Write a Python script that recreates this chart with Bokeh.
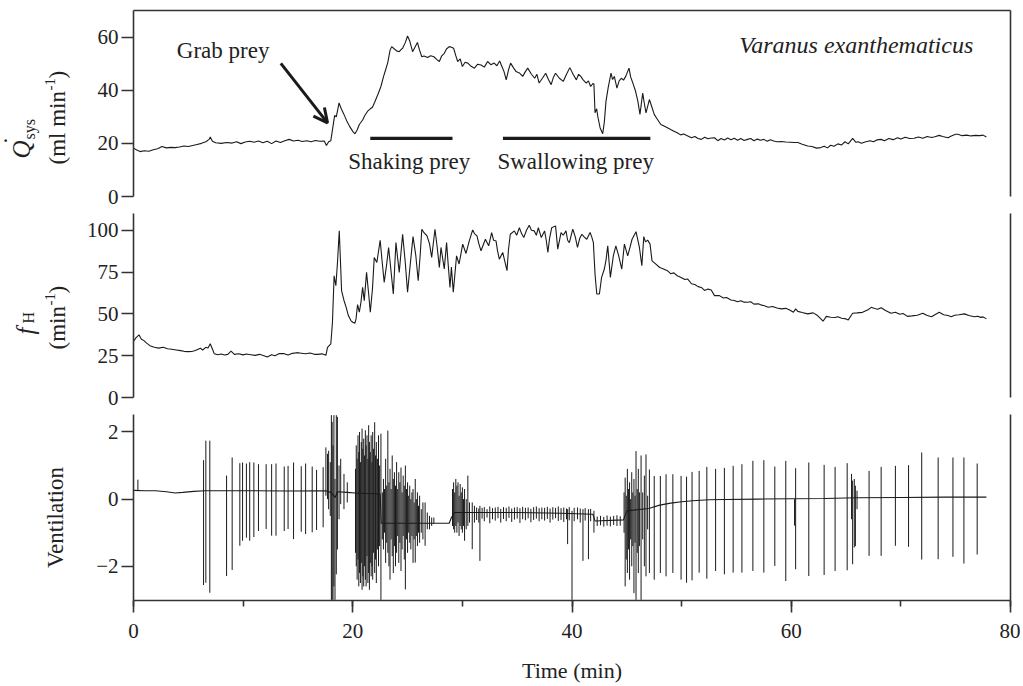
import numpy as np
from bokeh.plotting import figure
from bokeh.models import Range1d, LinearAxis, FixedTicker, SingleIntervalTicker, Label, Arrow, OpenHead
from bokeh.layouts import column, row
from bokeh.embed import file_html
from bokeh.resources import INLINE
from bokeh.core.properties import value

FONT = "Liberation Serif"
INK = "#1a1a1a"
AX = "#333333"
TXT = "#222222"

# ---------------- data ----------------
q_time = [0.0, 0.3, 0.6, 1.0, 1.4, 1.8, 2.2, 2.6, 3.0, 3.4, 3.8, 4.2, 4.6, 5.0, 5.4, 5.8, 6.2, 6.6, 6.9, 7.0,
          7.2, 7.5, 8.0, 8.5, 9.0, 9.4, 9.8, 10.2, 10.6, 11.0, 11.4, 11.8, 12.2, 12.6, 13.0, 13.4, 13.8, 14.2,
          14.6, 15.0, 15.4, 15.8, 16.2, 16.6, 17.0, 17.4, 17.6, 17.8, 18.0, 18.2, 18.35, 18.5, 18.75, 18.95,
          19.2, 19.5, 19.7, 20.0, 20.2, 20.4, 20.6, 20.9, 21.1, 21.36, 21.6, 21.8, 22.0, 22.3, 22.57, 22.8,
          23.0, 23.2, 23.4, 23.55, 23.8, 24.0, 24.24, 24.4, 24.55, 24.8, 25.0, 25.2, 25.46, 25.65, 25.9, 26.1,
          26.3, 26.5, 26.83, 27.1, 27.4, 27.65, 27.9, 28.1, 28.35, 28.55, 28.8, 29.0, 29.2, 29.4, 29.57, 29.8,
          30.0, 30.25, 30.5, 30.8, 31.1, 31.4, 31.7, 32.0, 32.3, 32.6, 32.9, 33.15, 33.4, 33.6, 33.8, 34.0,
          34.2, 34.4, 34.65, 34.9, 35.2, 35.5, 35.75, 35.96, 36.3, 36.6, 36.8, 37.0, 37.3, 37.6, 37.85, 38.1,
          38.3, 38.5, 38.85, 39.2, 39.5, 39.8, 40.1, 40.4, 40.6, 40.8, 41.0, 41.3, 41.5, 41.7, 41.9, 42.0,
          42.1, 42.25, 42.35, 42.56, 42.8, 42.95, 43.1, 43.3, 43.56, 43.7, 43.86, 44.1, 44.3, 44.5, 44.7,
          44.9, 45.2, 45.35, 45.5, 45.8, 46.0, 46.2, 46.45, 46.6, 46.75, 47.06, 47.3, 47.5, 47.8, 48.1, 48.4,
          48.7, 49.0, 49.3, 49.6, 49.9, 50.2, 50.56, 50.9, 51.2, 51.5, 51.8, 52.1, 52.4, 52.7, 53.0, 53.3,
          53.6, 53.9, 54.2, 54.5, 54.8, 55.1, 55.4, 55.7, 56.0, 56.3, 56.6, 56.9, 57.2, 57.5, 57.8, 58.1,
          58.4, 58.7, 59.1, 59.5, 59.9, 60.3, 60.6, 61.0, 61.5, 61.9, 62.3, 62.7, 63.0, 63.3, 63.6, 63.9,
          64.25, 64.6, 64.9, 65.2, 65.6, 65.9, 66.1, 66.4, 66.8, 67.2, 67.5, 67.8, 68.2, 68.5, 68.9, 69.3,
          69.7, 70.0, 70.4, 70.8, 71.2, 71.6, 72.0, 72.4, 72.8, 73.1, 73.5, 73.8, 74.3, 74.6, 75.0, 75.2,
          75.6, 76.0, 76.4, 76.8, 77.2, 77.5, 77.8]
q_sys = [18.2, 17.5, 16.9, 17.2, 17.0, 17.6, 18.0, 18.8, 18.3, 18.5, 18.4, 18.6, 19.0, 18.8, 19.2, 19.6, 20.0, 20.6, 21.5, 22.4,
         20.8, 20.2, 20.0, 20.3, 20.1, 20.6, 19.9, 20.5, 20.8, 20.4, 20.9, 20.2, 20.8, 19.9, 20.9, 20.3, 21.0, 21.5,
         20.9, 21.2, 20.7, 21.0, 20.6, 21.1, 20.8, 20.9, 19.2, 20.6, 21.0, 26.5, 30.5, 30.0, 35.2, 33.0,
         30.9, 28.0, 26.5, 24.5, 23.6, 25.0, 27.1, 28.8, 30.5, 32.1, 33.0, 33.6, 35.5, 38.5, 41.4, 45.0,
         47.7, 50.5, 55.0, 56.4, 55.5, 54.8, 54.5, 55.3, 55.8, 58.0, 60.4, 58.5, 54.5, 56.0, 58.0, 55.0,
         52.6, 52.9, 52.3, 53.0, 52.6, 51.6, 50.8, 52.8, 53.9, 55.5, 56.4, 56.2, 55.8, 53.0, 50.8, 51.8,
         48.9, 50.5, 50.2, 49.0, 48.3, 49.8, 49.5, 48.7, 50.8, 49.6, 50.2, 49.2, 51.0, 49.0, 47.0, 43.9,
         47.5, 50.2, 48.5, 47.0, 46.5, 45.2, 47.0, 48.3, 46.0, 44.5, 46.0, 42.7, 44.5, 46.4, 44.0, 42.1,
         44.8, 46.4, 44.5, 43.3, 46.0, 48.5, 46.0, 43.9, 46.0, 45.2, 44.0, 42.7, 43.5, 41.4, 42.5, 42.3,
         31.5, 33.0, 30.2, 25.9, 23.6, 28.0, 35.8, 41.0, 46.4, 44.0, 45.2, 40.8, 43.5, 44.5, 43.8,
         45.2, 48.3, 45.0, 43.3, 39.6, 36.0, 30.9, 38.9, 35.0, 31.5, 36.5, 33.5, 30.9, 29.0, 27.1, 26.5,
         25.9, 25.2, 24.6, 24.0, 23.2, 23.5, 22.8, 22.1, 22.6, 21.8, 21.5, 22.3, 21.7, 22.0, 22.1, 21.0,
         21.8, 21.3, 22.0, 21.4, 21.9, 21.2, 21.8, 21.1, 21.5, 21.8, 21.0, 21.6, 21.2, 21.5, 20.8, 21.4,
         20.9, 20.6, 20.7, 20.5, 20.4, 20.3, 20.3, 19.7, 19.0, 18.8, 18.2, 18.4, 18.9, 18.3, 19.3, 18.9,
         19.8, 19.4, 20.6, 19.8, 21.9, 20.4, 20.6, 20.0, 20.6, 21.0, 20.6, 21.3, 21.5, 21.0, 21.8, 21.4,
         22.1, 21.6, 22.3, 21.8, 21.9, 22.4, 21.9, 22.6, 22.2, 22.5, 23.0, 22.6, 22.1, 22.8, 23.4, 23.4,
         22.9, 23.1, 22.8, 23.0, 22.9, 23.1, 22.4]

fh_time = [0.0, 0.2, 0.5, 0.7, 0.95, 1.2, 1.5, 1.9, 2.3, 2.7, 3.1, 3.5, 3.9, 4.3, 4.6, 5.0, 5.3, 5.5, 5.8, 6.1,
           6.3, 6.6, 6.8, 7.0, 7.2, 7.36, 7.7, 8.0, 8.3, 8.6, 8.9, 9.2, 9.6, 10.0, 10.3, 10.7, 11.1, 11.5, 11.9,
           12.2, 12.6, 12.9, 13.3, 13.75, 14.1, 14.5, 14.9, 15.3, 15.7, 16.1, 16.5, 16.8, 17.2, 17.55, 17.7,
           18.0, 18.15, 18.3, 18.46, 18.6, 18.77, 18.9, 18.98, 19.2, 19.4, 19.6, 19.83, 20.0, 20.2, 20.3,
           20.44, 20.6, 20.75, 20.9, 21.05, 21.26, 21.45, 21.6, 21.8, 21.96, 22.2, 22.5, 22.7, 22.87, 23.1,
           23.27, 23.5, 23.7, 23.94, 24.24, 24.55, 24.8, 25.0, 25.25, 25.5, 25.75, 25.97, 26.15, 26.3, 26.5,
           26.77, 27.0, 27.2, 27.5, 27.7, 27.9, 28.05, 28.35, 28.56, 28.7, 28.87, 29.0, 29.17, 29.47, 29.7,
           30.03, 30.33, 30.63, 30.94, 31.1, 31.33, 31.5, 31.7, 32.1, 32.4, 32.67, 32.85, 33.07, 33.2, 33.37,
           33.68, 33.9, 34.07, 34.2, 34.37, 34.74, 34.95, 35.2, 35.4, 35.6, 35.85, 36.1, 36.3, 36.56, 36.75,
           36.93, 37.2, 37.5, 37.65, 37.8, 37.95, 38.15, 38.5, 38.7, 39.0, 39.2, 39.45, 39.6, 39.76, 40.07,
           40.3, 40.5, 40.7, 40.9, 41.1, 41.35, 41.65, 41.8, 41.95, 42.1, 42.26, 42.5, 42.7, 42.95, 43.1,
           43.26, 43.5, 43.77, 44.0, 44.26, 44.54, 44.78, 45.08, 45.3, 45.48, 45.84, 46.15, 46.37, 46.55,
           46.7, 46.9, 47.12, 47.3, 47.6, 48.0, 48.3, 48.7, 49.0, 49.3, 49.6, 49.95, 50.3, 50.56, 50.9, 51.2,
           51.5, 51.8, 52.1, 52.4, 52.7, 53.0, 53.45, 53.8, 54.1, 54.5, 54.8, 55.1, 55.4, 55.7, 56.0, 56.3,
           56.6, 57.0, 57.3, 57.55, 57.9, 58.3, 58.7, 59.1, 59.5, 59.9, 60.2, 60.4, 60.6, 61.0, 61.5, 62.0,
           62.4, 62.7, 62.9, 63.2, 63.6, 64.0, 64.25, 64.6, 65.0, 65.2, 65.6, 66.0, 66.5, 67.0, 67.3, 67.6,
           67.9, 68.2, 68.6, 69.1, 69.5, 69.9, 70.2, 70.6, 71.0, 71.5, 72.0, 72.4, 72.8, 73.1, 73.5, 73.9,
           74.3, 74.6, 74.9, 75.3, 75.8, 76.2, 76.7, 77.0, 77.3, 77.5, 77.8]
f_h = [33.5, 35.5, 37.5, 35.0, 34.0, 32.5, 31.0, 30.0, 29.5, 30.0, 29.1, 28.8, 28.4, 28.0, 27.6, 27.4, 27.5, 27.8, 28.6, 29.5,
       28.4, 30.0, 29.6, 32.1, 29.0, 26.2, 25.6, 26.0, 25.4, 25.8, 27.7, 25.8, 26.2, 25.5, 26.0, 25.6, 25.2, 25.8, 25.0,
       24.2, 25.6, 25.0, 26.3, 26.2, 25.4, 26.4, 26.8, 26.5, 26.2, 26.6, 25.8, 25.8, 26.1, 25.2, 30.0,
       32.1, 45.0, 72.8, 66.8, 80.0, 99.6, 78.0, 63.9, 58.0, 53.9, 49.0, 46.0, 45.0, 44.4, 47.0,
       55.5, 51.0, 57.0, 65.8, 57.9, 74.8, 62.0, 51.0, 65.0, 83.7, 80.7, 94.0, 80.0, 68.8, 80.0,
       89.7, 75.0, 61.9, 92.6, 74.8, 97.6, 80.0, 62.9, 80.0, 96.2, 85.0, 69.8, 85.0, 100.6, 98.5,
       96.6, 92.0, 83.7, 100.6, 90.0, 77.7, 89.7, 76.8, 92.6, 80.0, 65.8, 78.0, 62.9, 84.7, 79.8,
       91.7, 86.1, 93.6, 100.2, 98.0, 96.6, 92.0, 87.7, 94.6, 90.7, 98.6, 94.0, 93.6, 88.0, 82.7,
       86.7, 80.7, 75.8, 88.0, 97.6, 99.6, 97.0, 101.5, 98.0, 95.6, 100.0, 103.0, 100.0, 99.6, 97.0,
       101.5, 95.6, 99.6, 94.0, 86.7, 95.0, 101.5, 102.6, 88.7, 98.6, 97.0, 99.6, 94.0, 92.6, 100.6,
       96.0, 89.7, 95.0, 97.6, 96.0, 94.6, 98.6, 96.0, 92.6, 73.8, 61.9, 61.9, 71.8, 76.8, 82.0,
       90.7, 71.8, 84.7, 90.7, 84.7, 76.8, 91.7, 84.7, 90.0, 94.6, 99.1, 89.7, 78.8, 96.2,
       93.0, 94.1, 91.7, 81.7, 80.0, 77.7, 77.0, 75.8, 74.0, 74.5, 72.8, 71.8, 70.5, 70.8, 68.0, 67.5,
       66.3, 65.8, 64.0, 64.8, 64.3, 60.9, 60.9, 59.5, 59.8, 58.3, 58.0, 57.2, 57.8, 57.0, 56.9, 57.2,
       55.8, 56.0, 55.2, 54.9, 54.0, 54.4, 53.5, 53.0, 53.3, 52.2, 51.0, 53.0, 51.5, 50.8, 50.0, 50.6,
       49.0, 47.0, 45.6, 48.5, 48.0, 47.8, 48.3, 47.4, 47.0, 46.4, 50.4, 50.6, 50.9, 52.5, 53.9, 53.2,
       52.8, 53.7, 52.0, 50.4, 51.0, 49.8, 50.2, 48.5, 48.8, 49.2, 50.4, 49.0, 48.3, 49.5, 50.9, 49.5,
       49.0, 48.3, 49.2, 49.5, 50.0, 49.0, 48.3, 48.6, 47.9, 48.2, 47.0]

# ventilation: resting trace level and individual breath excursions
vent_base_time = [0.0, 1.0, 2.0, 3.0, 3.8, 4.5, 5.5, 6.5, 10.0, 14.0, 17.5, 18.0, 18.4, 18.6, 19.5, 20.2,
                  22.5, 22.6, 27.5, 28.8, 29.0, 29.3, 31.0, 35.0, 39.0, 41.9, 42.1, 44.7, 45.0, 47.0, 48.0,
                  49.0, 50.0, 51.0, 52.5, 54.0, 57.0, 60.0, 63.0, 66.0, 70.0, 74.0, 77.8]
vent_base = [0.26, 0.25, 0.25, 0.22, 0.18, 0.20, 0.23, 0.25, 0.25, 0.24, 0.25, 0.20, 0.05, 0.22, 0.20, 0.18,
             0.15, -0.72, -0.72, -0.72, -0.55, -0.40, -0.40, -0.40, -0.42, -0.45, -0.65, -0.62, -0.35, -0.28, -0.18,
             -0.12, -0.08, -0.05, -0.02, -0.01, 0.00, 0.01, 0.02, 0.04, 0.05, 0.06, 0.06]

breath_time = [0.4, 6.39, 6.6, 6.96, 8.49, 9.0, 9.7, 9.95, 10.3, 10.6, 10.98, 11.4, 12.1, 12.6, 13.0, 13.75,
               14.1, 14.6, 15.3, 15.7, 16.3, 16.7, 17.3, 17.55, 17.7, 17.8, 17.95, 18.05, 18.12, 18.2, 18.28,
               18.38, 18.5, 18.6, 18.75, 18.9, 19.2, 19.5,
               20.25, 20.32, 20.4, 20.48, 20.55, 20.62, 20.7, 20.78, 20.85, 20.92, 21.0, 21.08, 21.15, 21.22,
               21.3, 21.38, 21.45, 21.52, 21.6, 21.68, 21.75, 21.82, 21.9, 22.0, 22.08, 22.15, 22.25, 22.35,
               22.45, 22.57,
               22.7, 22.8, 22.9, 23.0, 23.1, 23.2, 23.3, 23.4, 23.5, 23.6, 23.7, 23.8, 23.9, 24.0, 24.1, 24.2,
               24.3, 24.4, 24.5, 24.6, 24.7, 24.8, 24.9, 25.0, 25.1, 25.2, 25.3, 25.4, 25.5, 25.6, 25.7, 25.8,
               25.9, 26.0, 26.1, 26.25, 26.4, 26.6, 26.8, 27.0, 27.2, 27.4,
               29.1, 29.2, 29.3, 29.4, 29.5, 29.6, 29.7, 29.8, 29.9, 30.0, 30.1, 30.2, 30.35, 30.5, 30.65,
               30.9, 31.1, 31.3, 31.5, 31.6, 31.8, 32.0, 32.25, 32.5, 32.75, 33.0, 33.25, 33.5, 33.75, 34.0,
               34.25, 34.5, 34.75, 35.0, 35.25, 35.5, 35.75, 36.0, 36.25, 36.5, 36.75, 37.0, 37.25, 37.5,
               37.75, 38.0, 38.25, 38.5, 38.75, 39.0, 39.25, 39.5, 39.6, 39.75, 40.0, 40.2, 40.5, 40.75,
               41.0, 41.2, 41.5, 41.7, 42.0, 42.3, 42.6, 42.9, 43.2, 43.5, 43.8, 44.1, 44.4,
               44.75, 44.85, 44.95, 45.05, 45.15, 45.25, 45.35, 45.45, 45.55, 45.65, 45.75, 45.84, 45.95,
               46.05, 46.15, 46.3, 46.45, 46.6, 46.75, 46.9,
               47.06, 47.5, 48.06, 48.58, 49.2, 49.95, 50.45, 50.95, 51.6, 52.3, 53.1, 53.9, 54.7, 55.5,
               56.5, 57.5, 58.5, 59.5, 60.3, 60.4, 61.6, 63.0, 64.0, 65.1, 65.5, 65.6, 65.75, 65.85, 66.0,
               67.1, 68.2, 69.5, 70.7, 71.9, 73.4, 74.75, 75.75, 76.96]
breath_top = [0.58, 1.16, 1.74, 1.74, 0.70, 1.24, 1.07, 1.09, 1.06, 1.10, 1.09, 1.04, 1.04, 1.04, 1.06, 0.97,
              0.99, 1.09, 0.98, 1.06, 0.97, 0.87, 0.95, 1.54, 1.35, 1.44, 1.10, 2.50, 2.30, 1.60, 2.50,
              0.60, 2.50, 2.45, 1.00, 1.20, 0.75, 0.50,
              0.90, 1.60, 1.20, 1.90, 1.40, 2.00, 1.10, 1.70, 2.10, 1.50, 1.80, 1.30, 2.05, 1.60,
              1.90, 1.20, 2.20, 1.70, 1.40, 1.90, 1.10, 2.00, 1.50, 2.29, 1.30, 1.70, 1.20, 1.90,
              1.00, 1.95,
              0.20, 0.60, 0.30, 1.20, 0.40, 2.04, 0.50, 0.90, 0.30, 1.30, 0.60, 0.80, 0.40, 1.10, 0.30, 0.80,
              0.50, 0.94, 0.20, 0.70, 0.40, 1.00, 0.30, 0.50, 0.10, 0.40, 0.00, 0.20, 0.30, -0.10, 0.60, 0.00,
              0.20, -0.20, 0.10, -0.30, -0.10, -0.10, -0.40, -0.50, -0.55, -0.55,
              0.30, 0.50, 0.20, 0.60, 0.40, 0.50, 0.10, 0.45, 0.20, 0.35, 0.00, 0.30, 0.00, 0.70, -0.10,
              -0.10, -0.20, -0.25, -0.28, -0.20, -0.26, -0.24, -0.30, -0.22, -0.27, -0.25, -0.23, -0.29, -0.24, -0.26,
              -0.22, -0.28, -0.25, -0.24, -0.27, -0.23, -0.26, -0.25, -0.29, -0.24, -0.22, -0.27, -0.25, -0.26,
              -0.23, -0.28, -0.24, -0.26, -0.22, -0.27, -0.25, -0.28, -0.30, -0.24, -0.35, -0.26, -0.25, -0.28,
              -0.30, -0.27, -0.30, -0.29, -0.35, -0.52, -0.50, -0.53, -0.49, -0.52, -0.50, -0.48, -0.51,
              0.20, 0.64, 0.10, 0.90, 0.30, 0.50, 0.00, 0.80, 0.20, 0.60, 0.10, 1.43, 0.30,
              0.90, 0.20, 1.30, 0.20, 0.70, 1.33, 0.10,
              0.88, 0.69, 0.69, 0.74, 0.74, 0.69, 0.67, 0.81, 0.84, 0.96, 0.90, 0.93, 0.99, 1.04,
              1.14, 1.16, 0.97, 1.14, 0.00, 0.92, 1.09, 1.02, 0.96, 1.07, 0.75, 0.55, 0.60, 0.40, 0.25,
              0.84, 0.96, 0.99, 1.01, 1.39, 1.24, 1.24, 1.24, 1.06]
breath_bottom = [0.24, -2.56, -2.49, -2.79, -2.29, -2.11, -1.39, -1.24, -1.15, -1.24, -1.13, -0.95, -0.89, -1.09, -1.09, -0.95,
                 -0.89, -1.19, -0.97, -1.04, -0.99, -0.92, -0.84, 0.10, 0.00, -0.30, -0.50, -3.00, -3.00, -3.00, -2.60,
                 -3.00, -2.24, -1.50, -0.60, -0.15, -0.30, -0.10,
                 -1.60, -2.00, -2.40, -1.80, -2.60, -2.20, -2.50, -1.90, -2.70, -2.30, -2.60, -2.00, -2.40, -2.60,
                 -1.70, -2.50, -2.20, -2.70, -1.90, -2.30, -2.00, -2.40, -1.60, -2.20, -1.80, -2.50, -1.50, -2.00,
                 -1.40, -3.00,
                 -1.20, -1.50, -1.00, -1.90, -1.30, -1.60, -2.00, -2.40, -1.20, -1.70, -2.20, -1.40, -2.00, -1.60, -1.10, -1.90,
                 -1.30, -2.14, -1.50, -1.10, -1.80, -2.69, -1.20, -1.60, -1.00, -1.30, -1.50, -1.10, -1.90, -1.20, -1.89, -1.10,
                 -1.40, -1.00, -1.30, -1.00, -1.20, -1.39, -0.90, -0.90, -0.80, -0.73,
                 -0.80, -0.90, -1.00, -0.80, -1.00, -0.70, -1.10, -0.80, -0.90, -1.00, -0.80, -1.24, -0.90, -0.80, -0.70,
                 -1.49, -0.70, -0.62, -0.70, -1.84, -0.58, -0.66, -0.55, -0.72, -0.60, -0.64, -0.57, -0.70, -0.59, -0.66,
                 -0.56, -0.68, -0.61, -0.58, -0.71, -0.60, -0.63, -0.57, -0.69, -0.62, -0.58, -0.66, -0.60, -0.64,
                 -0.59, -0.70, -0.61, -0.57, -0.65, -0.62, -0.68, -0.60, -1.34, -0.63, -3.00, -0.66, -0.60, -0.70,
                 -1.84, -0.64, -1.79, -0.66, -1.00, -0.80, -0.78, -0.82, -0.79, -0.81, -0.77, -0.80, -0.79,
                 -1.00, -2.60, -1.80, -2.20, -1.50, -2.40, -1.20, -2.00, -1.40, -2.80, -1.30, -3.00, -1.60,
                 -2.20, -1.40, -3.00, -1.20, -2.00, -2.30, -0.90,
                 -2.20, -2.40, -2.20, -2.30, -2.20, -2.40, -2.49, -2.42, -2.19, -2.37, -2.14, -2.24, -2.19, -2.19,
                 -2.14, -2.19, -1.99, -2.44, -0.79, -2.09, -2.29, -2.26, -2.14, -2.12, -0.60, -1.94, -1.44, -1.40, -0.30,
                 -1.69, -1.69, -1.39, -1.42, -1.80, -1.79, -1.72, -1.92, -1.65]

# feeding phases (start, end) in minutes
phase_start = [21.6, 33.7]
phase_end = [29.1, 47.15]
phase_names = ["Shaking prey", "Swallowing prey"]
phase_label_x = [25.15, 40.34]

q_ticks = [0, 20, 40, 60]
fh_ticks = [0, 25, 50, 75, 100]
v_ticks = [-2, 0, 2]

# ---------------- layout constants (pixels) ----------------
LW = 70          # width of the y-label strip
FW = 877         # frame width
TOTAL_H = 684

xr = Range1d(0, 80)


def base_fig(yr, ticks, fh, top, bottom, show_x):
    p = figure(frame_width=FW, frame_height=fh, x_range=xr, y_range=Range1d(*yr),
               output_backend="svg", toolbar_location=None,
               x_axis_location="below" if show_x else None,
               min_border_left=63, min_border_right=10,
               min_border_top=top, min_border_bottom=bottom)
    p.outline_line_color = None
    p.grid.visible = False
    p.background_fill_color = "white"
    p.border_fill_color = "white"
    ya = p.yaxis[0]
    ya.ticker = FixedTicker(ticks=ticks)
    ya.axis_line_color = AX
    ya.axis_line_width = 1.6
    ya.major_tick_line_color = AX
    ya.major_tick_line_width = 1.6
    ya.major_tick_out = 12
    ya.major_tick_in = 0
    ya.minor_tick_line_color = None
    ya.major_label_text_font = FONT
    ya.major_label_text_font_size = "21px"
    ya.major_label_text_color = TXT
    ya.major_label_standoff = 3
    right = LinearAxis(ticker=FixedTicker(ticks=[]), axis_line_color=AX, axis_line_width=1.6,
                       major_tick_line_color=None, minor_tick_line_color=None,
                       major_label_standoff=0, axis_label_standoff=0)
    p.add_layout(right, "right")
    return p


p1 = base_fig((0, 70), q_ticks, 186, 10, 17, False)
top_ax = LinearAxis(ticker=FixedTicker(ticks=[]), axis_line_color=AX, axis_line_width=1.6,
                    major_tick_line_color=None, minor_tick_line_color=None,
                    major_label_standoff=0, axis_label_standoff=0)
p1.add_layout(top_ax, "above")
p1.line(q_time, q_sys, line_color=INK, line_width=1.1)

p1.segment(x0=phase_start, y0=[21.9] * 2, x1=phase_end, y1=[21.9] * 2, line_color=INK, line_width=3.2)
for lx, name in zip(phase_label_x, phase_names):
    p1.add_layout(Label(x=lx, y=13.3, text=name, text_align="center", text_baseline="alphabetic",
                        text_font=FONT, text_font_size="23px", text_color=TXT))
p1.add_layout(Label(x=3.95, y=54.8, text="Grab prey", text_align="left", text_baseline="alphabetic",
                    text_font=FONT, text_font_size="23px", text_color=TXT))
p1.add_layout(Arrow(x_start=13.44, y_start=50.1, x_end=17.7, y_end=27.7, line_color=INK, line_width=3,
                    end=OpenHead(size=14, line_color=INK, line_width=3)))
p1.add_layout(Label(x=76.6, y=56.9, text="Varanus exanthematicus", text_align="right", text_baseline="alphabetic",
                    text_font=FONT, text_font_size="24px", text_font_style="italic", text_color=TXT))

p2 = base_fig((0, 110), fh_ticks, 184, 0, 17, False)
p2.line(fh_time, f_h, line_color=INK, line_width=1.1)

p3 = base_fig((-3.02, 2.52), v_ticks, 186, 0, 0, True)
p3.line(vent_base_time, vent_base, line_color=INK, line_width=1.1)
p3.segment(x0=breath_time, y0=breath_bottom, x1=breath_time, y1=breath_top, line_color=INK, line_width=1.0)
xa = p3.xaxis[0]
xa.ticker = SingleIntervalTicker(interval=20, num_minor_ticks=2)
xa.axis_line_color = AX
xa.axis_line_width = 1.6
xa.major_tick_line_color = AX
xa.major_tick_line_width = 1.6
xa.major_tick_out = 12
xa.major_tick_in = 0
xa.minor_tick_line_color = AX
xa.minor_tick_line_width = 1.6
xa.minor_tick_out = 6
xa.minor_tick_in = 0
xa.major_label_text_font = FONT
xa.major_label_text_font_size = "21px"
xa.major_label_text_color = TXT
xa.major_label_standoff = 11
xa.axis_label = "Time (min)"
xa.axis_label_text_font = FONT
xa.axis_label_text_font_size = "22px"
xa.axis_label_text_font_style = "normal"
xa.axis_label_text_color = TXT
xa.axis_label_standoff = 17

# ---------------- y-axis titles in a left strip (pixel coordinates, y up) ----------------
lab = figure(width=LW, height=TOTAL_H, x_range=Range1d(0, LW), y_range=Range1d(0, TOTAL_H),
             output_backend="svg", toolbar_location=None, x_axis_location=None, y_axis_location=None,
             min_border=0)
lab.outline_line_color = None
lab.grid.visible = False
R = np.pi / 2


def put(x, ytop, text, size, style="normal"):
    lab.text(x=[x], y=[TOTAL_H - ytop], text=[text], angle=R, text_align="left", text_baseline="middle",
             text_font=value(FONT), text_font_size=size, text_font_style=style, text_color=TXT)


def putc(x, ytop, text, size, style="normal"):
    lab.text(x=[x], y=[TOTAL_H - ytop], text=[text], angle=R, text_align="center", text_baseline="middle",
             text_font=value(FONT), text_font_size=size, text_font_style=style, text_color=TXT)


# panel 1: Q_sys (ml min-1)
put(21, 158, "Q", "25px", "italic")
putc(12, 140, "\u02d9", "25px")
put(29, 139, "sys", "16px")
put(57, 164, "(ml min", "23px")
put(49, 90, "-1", "15px")
put(57, 78, ")", "23px")
# panel 2: fH (min-1)
put(25, 334, "f", "25px", "italic")
put(28, 323, "H", "16px")
put(57, 349, "(min", "23px")
put(49, 305, "-1", "15px")
put(57, 293, ")", "23px")
# panel 3
putc(55, 517, "Ventilation", "23px")

layout = row(lab, column(p1, p2, p3))
open("out.html", "w").write(file_html(layout, INLINE))
